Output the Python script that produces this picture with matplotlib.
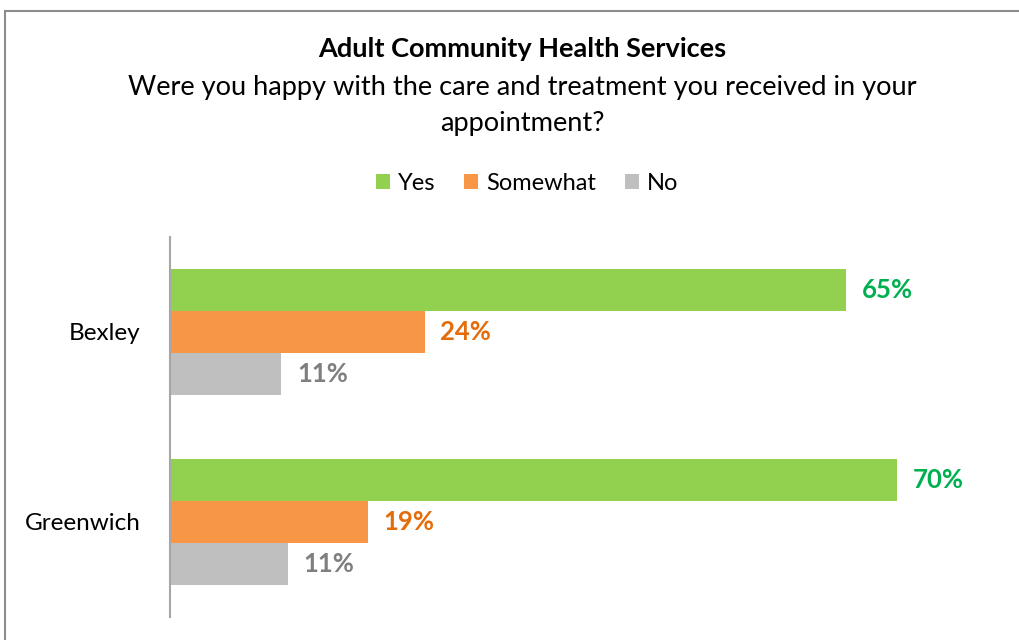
import matplotlib
matplotlib.use("Agg")
import matplotlib.pyplot as plt
from matplotlib.patches import Rectangle, Patch

plt.rcParams['font.family'] = ['Lato', 'DejaVu Sans']

categories = ["Bexley", "Greenwich"]
series = ["Yes", "Somewhat", "No"]
values = {
    "Yes": [65.0, 69.9],
    "Somewhat": [24.5, 19.0],
    "No": [10.7, 11.3],
}
labels = {
    "Yes": ["65%", "70%"],
    "Somewhat": ["24%", "19%"],
    "No": ["11%", "11%"],
}
bar_colors = {"Yes": "#92D050", "Somewhat": "#F79646", "No": "#BFBFBF"}
text_colors = {"Yes": "#00B050", "Somewhat": "#E46C0A", "No": "#7F7F7F"}

W, H = 1020, 640
fig = plt.figure(figsize=(W / 100, H / 100), dpi=100)

# outer border
fig.patches.append(Rectangle((5 / W, -0.1), 1.2, 1 - 11 / H + 0.1,
                             transform=fig.transFigure, fill=False,
                             edgecolor="#8C8C8C", linewidth=1.5))

ax = fig.add_axes([170 / W, 23 / H, (1002 - 170) / W, (617 - 237) / H])
bh = 0.222
for i, s in enumerate(series):
    for j, c in enumerate(categories):
        y = j + (i - 1) * bh
        v = values[s][j]
        ax.barh(y, v, height=bh, color=bar_colors[s], edgecolor="none")
        ax.text(v + 1.5, y, labels[s][j], va="center", ha="left",
                fontsize=18.5, fontweight="bold", color=text_colors[s])

ax.set_xlim(0, 80)
ax.set_ylim(1.5, -0.5)
ax.set_yticks(range(len(categories)))
ax.set_yticklabels(categories, fontsize=17.5)
ax.tick_params(axis="y", length=0, pad=21)
ax.set_xticks([])
for sp in ["top", "right", "bottom"]:
    ax.spines[sp].set_visible(False)
ax.spines["left"].set_color("#A6A6A6")
ax.spines["left"].set_linewidth(1.5)

fig.text(522 / W, 1 - 49 / H, "Adult Community Health Services",
         ha="center", va="center", fontsize=19.5, fontweight="bold")
fig.text(522 / W, 1 - 88 / H,
         "Were you happy with the care and treatment you received in your",
         ha="center", va="center", fontsize=19.6)
fig.text(522 / W, 1 - 123 / H, "appointment?", ha="center", va="center",
         fontsize=19.6)

handles = [Patch(facecolor=bar_colors[s], edgecolor="none") for s in series]
fig.legend(handles, series, loc="center", bbox_to_anchor=(527 / W, 1 - 183 / H),
           ncol=3, frameon=False, fontsize=17, handlelength=0.6,
           handleheight=0.6, handletextpad=0.35, columnspacing=1.2)

fig.savefig("out.png", dpi=100, facecolor="white")
